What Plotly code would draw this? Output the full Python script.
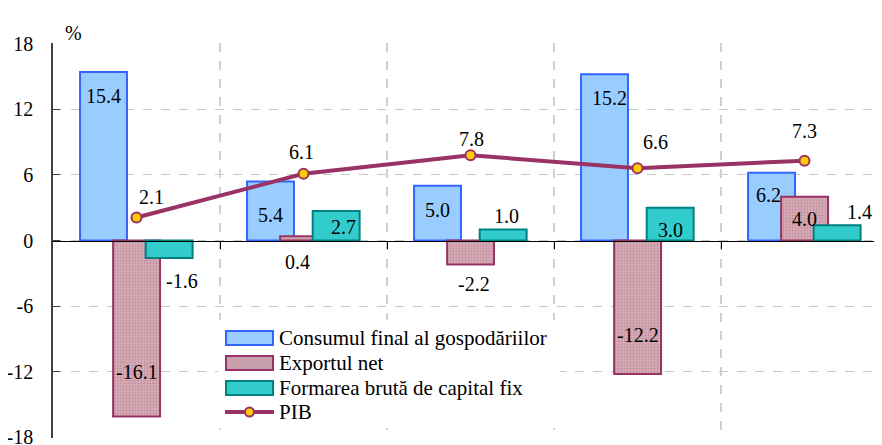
import plotly.graph_objects as go

# date (%), 5 perioade
consum = [15.4, 5.4, 5.0, 15.2, 6.2]
export_net = [-16.1, 0.4, -2.2, -12.2, 4.0]
formare = [-1.6, 2.7, 1.0, 3.0, 1.4]
pib = [2.1, 6.1, 7.8, 6.6, 7.3]

y_ticks = [-18, -12, -6, 0, 6, 12, 18]
nume = ["Consumul final al gospodăriilor", "Exportul net",
        "Formarea brută de capital fix", "PIB"]

x = list(range(len(pib)))
FONT = "Liberation Serif"
BW = 0.281

# pagina html are margine de 8px; zona de desen in pixeli ai figurii
W, H = 874, 437
L, T, PW, PH = 45, 35, 829, 395


def px(xp):
    return (xp - 8 - L) / PW


def py(yp):
    return (T + PH - (yp - 8)) / PH


fig = go.Figure()

fig.add_trace(go.Bar(x=x, y=consum, name=nume[0], width=BW, offset=-0.338,
                     marker=dict(color="#99ccff", line=dict(color="#3366ff", width=2)),
                     showlegend=False))
fig.add_trace(go.Bar(x=x, y=export_net, name=nume[1], width=BW, offset=-0.14,
                     marker=dict(color="#d0a0ac", line=dict(color="#993366", width=2),
                                 pattern=dict(shape=".", bgcolor="#d6aab6", fgcolor="#a87080",
                                              size=3, solidity=0.3)),
                     showlegend=False))
fig.add_trace(go.Bar(x=x, y=formare, name=nume[2], width=BW, offset=0.055,
                     marker=dict(color="#33cccc", line=dict(color="#008080", width=2)),
                     showlegend=False))
fig.add_trace(go.Scatter(x=x, y=pib, name=nume[3], mode="lines+markers",
                         line=dict(color="#993366", width=4),
                         marker=dict(size=10, color="#ffcc00", line=dict(color="#993366", width=2)),
                         showlegend=False))

# etichete de date: (valori, deplasare centru bara, xshift, yshift)
etichete = [
    (consum, -0.198, [0, 0, 0, 5, -3], [-24, -34, -24, -24, -22]),
    (export_net, 0.0, [0, -6, 3, 0, 0], [45, -26, -19, 39, -22]),
    (formare, 0.195, [13, 7, 3, 0, 22], [-23, -16, 14, -22, 13]),
    (pib, 0.0, [15, -2, 1, 18, 0], [21, 22, 16, 26, 30]),
]
anns = []
for vals, off, xs, ys in etichete:
    for i, v in enumerate(vals):
        anns.append(dict(x=i + off, y=v, xref="x", yref="y", text=f"{v:.1f}",
                         showarrow=False, xshift=xs[i], yshift=ys[i],
                         font=dict(family=FONT, size=20, color="black")))

anns.append(dict(x=px(63), y=py(20), xref="paper", yref="paper", text="%",
                 showarrow=False, font=dict(family=FONT, size=20, color="black")))

# legenda manuala
shapes = [dict(type="rect", xref="paper", yref="paper", x0=px(218), x1=px(560),
               y0=py(428), y1=py(320), fillcolor="white", line=dict(width=0), layer="above")]
rows = [338, 363, 388, 412]
sw = [("#99ccff", "#3366ff"), ("#c8a0ac", "#993366"), ("#33cccc", "#008080")]
for (fc, lc), r in zip(sw, rows[:3]):
    shapes.append(dict(type="rect", xref="paper", yref="paper", x0=px(226), x1=px(273),
                       y0=py(r + 7), y1=py(r - 7), fillcolor=fc,
                       line=dict(color=lc, width=2), layer="above"))
shapes.append(dict(type="line", xref="paper", yref="paper", x0=px(225), x1=px(274),
                   y0=py(rows[3]), y1=py(rows[3]), line=dict(color="#993366", width=4),
                   layer="above"))
shapes.append(dict(type="circle", xref="paper", yref="paper", x0=px(245), x1=px(254),
                   y0=py(rows[3] + 4.5), y1=py(rows[3] - 4.5), fillcolor="#ffcc00",
                   line=dict(color="#993366", width=2), layer="above"))
for t, r in zip(nume, rows):
    anns.append(dict(x=px(277), y=py(r), xref="paper", yref="paper", text=t,
                     xanchor="left", yanchor="middle", showarrow=False,
                     font=dict(family=FONT, size=21, color="black")))

fig.update_layout(
    width=W, height=H,
    margin=dict(l=L, r=W - L - PW, t=T, b=H - T - PH, autoexpand=False),
    barmode="overlay",
    plot_bgcolor="white", paper_bgcolor="white",
    font=dict(family=FONT, size=20, color="black"),
    annotations=anns, shapes=shapes,
    xaxis=dict(range=[-0.5, -0.5 + PW / 167], tickvals=[0.5, 1.5, 2.5, 3.5],
               showticklabels=False, ticks="outside", ticklen=7, tickcolor="black",
               showline=True, linecolor="black", linewidth=1,
               anchor="free", position=0.5, automargin=False,
               showgrid=True, gridcolor="#d0d0d0", gridwidth=2, griddash="dash",
               zeroline=False),
    yaxis=dict(range=[-18.06, 18.06], tickvals=y_ticks, ticktext=[str(v) for v in y_ticks],
               ticks="inside", ticklen=7, tickcolor="#404040", ticklabelstandoff=14,
               ticklabeloverflow="allow", automargin=False,
               showline=True, linecolor="#404040", linewidth=1.5,
               showgrid=True, gridcolor="#c8c8c8", gridwidth=1, griddash="dash",
               zeroline=False, tickfont=dict(family=FONT, size=20)),
)

fig.write_html("out.html")
